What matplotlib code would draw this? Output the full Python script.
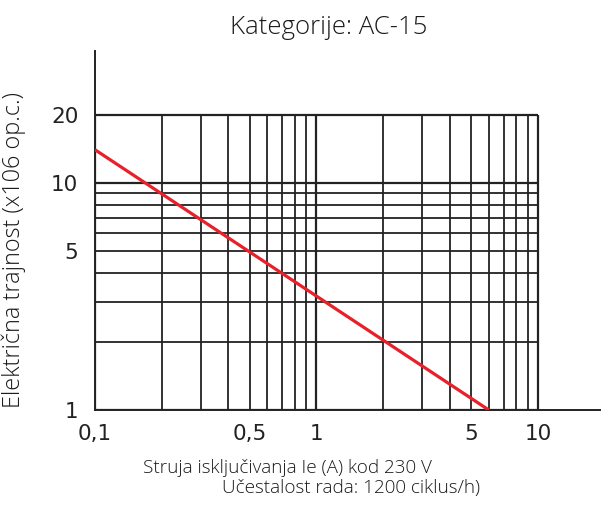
import matplotlib
matplotlib.use("Agg")
import matplotlib.pyplot as plt

# data
line_x = [0.1, 6.0]
line_y = [14.0, 1.0]

grid_x = [0.1, 0.2, 0.3, 0.4, 0.5, 0.6, 0.7, 0.8, 0.9,
          1, 2, 3, 4, 5, 6, 7, 8, 9, 10]
grid_y = [1, 2, 3, 4, 5, 6, 7, 8, 9, 10, 20]

xtick_pos = [0.1, 0.5, 1, 5, 10]
xtick_lbl = ["0,1", "0,5", "1", "5", "10"]
ytick_pos = [1, 5, 10, 20]
ytick_lbl = ["1", "5", "10", "20"]

plt.rcParams['font.family'] = ['Open Sans', 'DejaVu Sans']
plt.rcParams['font.weight'] = 'light'

fig = plt.figure(figsize=(6.02, 5.31), dpi=100)
ax = fig.add_axes([95/602, 121/531, 505/602, 359/531])

ax.set_xscale('log')
ax.set_yscale('log')
ax.set_xlim(0.1, 19.06)
ax.set_ylim(1, 38.1)

gc = '#222222'
for x in grid_x:
    lw = 1.6 if x in (0.1, 1, 10) else 1.3
    ax.plot([x, x], [1, 20], color=gc, lw=lw, solid_capstyle='butt', zorder=1)
for y in grid_y:
    lw = 1.6 if y in (1, 10, 20) else 1.3
    ax.plot([0.1, 10], [y, y], color=gc, lw=lw, solid_capstyle='butt', zorder=1)

ax.plot(line_x, line_y, color='#e8202a', lw=2.3, zorder=3, solid_capstyle='butt')

for s in ('top', 'right'):
    ax.spines[s].set_visible(False)
for s in ('left', 'bottom'):
    ax.spines[s].set_linewidth(1.4)
    ax.spines[s].set_color(gc)

ax.minorticks_off()
ax.set_xticks(xtick_pos)
ax.set_xticklabels(xtick_lbl, family=['Liberation Sans Narrow', 'DejaVu Sans'], weight='normal')
ax.set_yticks(ytick_pos)
ax.set_yticklabels(ytick_lbl, family=['Liberation Sans Narrow', 'DejaVu Sans'], weight='normal')
ax.tick_params(axis='both', length=0, labelsize=15.5, colors='#222222')
ax.tick_params(axis='x', pad=10)
ax.tick_params(axis='y', pad=12)

tc = '#1a1a1a'
fig.text(329/602, 1 - 27/531, "Kategorije: AC-15", ha='center', va='center',
         fontsize=18.5, color=tc)
fig.text(14/602, 1 - 250/531, "Električna trajnost (x106 op.c.)", rotation=90,
         ha='center', va='center', fontsize=16.8, color=tc)
fig.text(143/602, 1 - 468/531, "Struja isključivanja Ie (A) kod 230 V",
         ha='left', va='center', fontsize=13.6, color=tc)
fig.text(480/602, 1 - 488/531, "Učestalost rada: 1200 ciklus/h)",
         ha='right', va='center', fontsize=13.6, color=tc)

fig.savefig("out.png", dpi=100)
